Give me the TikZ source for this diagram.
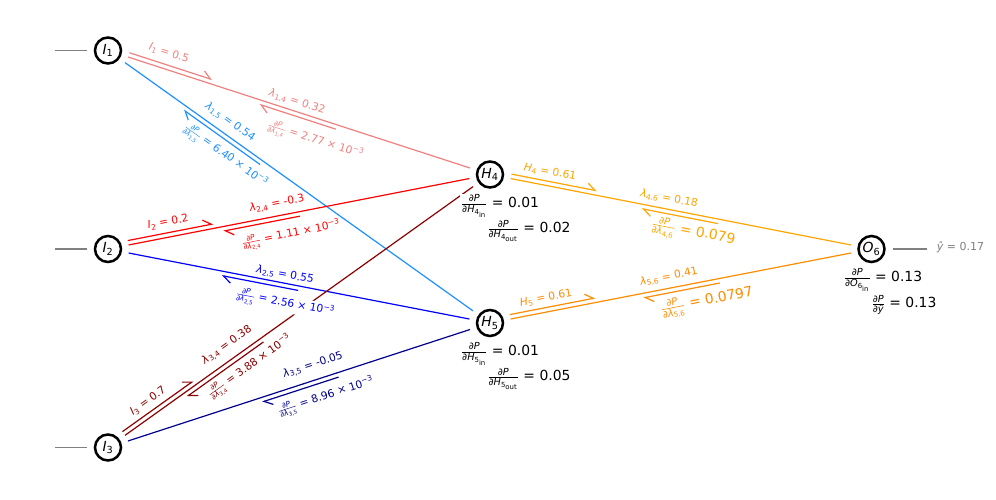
\documentclass[tikz,border=0pt]{standalone}
\usepackage{fontspec}
\usepackage{amsmath}
\setmainfont{DejaVu Sans}
\usetikzlibrary{arrows.meta,calc}
\definecolor{lcoral}{HTML}{F08080}
\definecolor{dgblue}{HTML}{1E90FF}
\definecolor{dkred}{HTML}{8B0000}
\definecolor{dkblue}{HTML}{00008B}
\definecolor{orng}{HTML}{FFA500}
\definecolor{dorng}{HTML}{FF8C00}
\definecolor{gry}{HTML}{808080}
\newcommand{\tx}[1]{\text{#1}}
\newcommand{\ti}[1]{\text{\itshape #1}}
\newcommand{\pdv}[2]{\ensuremath{\frac{\ti{∂#1}}{#2}}}
\newcommand{\lam}[1]{\ensuremath{\ti{λ}_{\tx{#1}}}}
\newcommand{\mthree}{10\ensuremath{^{\tx{−3}}}}
\newcommand{\fwdarr}[3]{\draw[#1,arr] ($(#2)!21pt!(#3)!4.5pt!90:(#3)$) -- ($(#2)!108pt!(#3)!4.5pt!90:(#3)$);}
\newcommand{\bckarr}[5]{\draw[#1,arr] ($(#2)!#4!(#3)!4.5pt!-90:(#3)$) -- ($(#2)!#5!(#3)!4.5pt!-90:(#3)$);}
\newcommand{\mainln}[3]{\draw[#1,edge] ($(#2)!21pt!(#3)$) -- ($(#3)!21pt!(#2)$);}
\begin{document}
\begin{tikzpicture}[x=1pt,y=-1pt,
  neuron/.style={circle,draw=black,line width=2.5pt,minimum size=26pt,inner sep=0pt,fill=white,font=\fontsize{13.9}{16}\selectfont},
  edge/.style={line width=1.2pt},
  arr/.style={line width=1.2pt,-{Straight Barb[left,length=8pt,width=11.5pt]}},
  lab/.style={fill=white,inner sep=0.6pt,font=\fontsize{10.7}{12}\selectfont},
  biglab/.style={fill=white,inner sep=0.6pt,font=\fontsize{13.9}{16}\selectfont},
  stub/.style={gry,line width=1.2pt}]
\useasboundingbox (0,0) rectangle (996,499);
% node positions
\coordinate (cI1) at (108,50.5);
\coordinate (cI2) at (108,249);
\coordinate (cI3) at (108,447.5);
\coordinate (cH4) at (490,174.5);
\coordinate (cH5) at (490,323);
\coordinate (cO6) at (871.5,249);
\coordinate (s1) at (55,50.5);
\coordinate (s2) at (55,249);
\coordinate (s3) at (55,447.5);
\coordinate (s6) at (926.5,249);
% stubs
\draw[stub] (s1) -- ($(cI1)!21pt!(s1)$);
\draw[stub] (s2) -- ($(cI2)!21pt!(s2)$);
\draw[stub] (s3) -- ($(cI3)!21pt!(s3)$);
\draw[stub] ($(cO6)!21pt!(s6)$) -- (s6);
% main lines
\mainln{lcoral}{cI1}{cH4}
\mainln{dgblue}{cI1}{cH5}
\mainln{red}{cI2}{cH4}
\mainln{blue}{cI2}{cH5}
\mainln{dkred}{cI3}{cH4}
\mainln{dkblue}{cI3}{cH5}
\mainln{orng}{cH4}{cO6}
\mainln{dorng}{cH5}{cO6}
% forward arrows
\fwdarr{lcoral}{cI1}{cH4}
\fwdarr{red}{cI2}{cH4}
\fwdarr{dkred}{cI3}{cH4}
\fwdarr{orng}{cH4}{cO6}
\fwdarr{dorng}{cH5}{cO6}
% backward arrows
\bckarr{lcoral}{cI1}{cH4}{0.6}{0.4}
\bckarr{dgblue}{cI1}{cH5}{0.405}{0.205}
\bckarr{red}{cI2}{cH4}{0.5}{0.3}
\bckarr{blue}{cI2}{cH5}{0.5}{0.3}
\bckarr{dkred}{cI3}{cH4}{0.4}{0.2}
\bckarr{dkblue}{cI3}{cH5}{0.6}{0.4}
\bckarr{orng}{cH4}{cO6}{0.6}{0.4}
\bckarr{dorng}{cH5}{cO6}{0.6}{0.4}
% edge labels
\node[lab,text=lcoral,rotate=-18] (l1) at (169,53) {\textit{I}$_{\tx{1}}$ = 0.5};
\node[lab,text=lcoral,rotate=-18] (l2) at (297,102) {\lam{1,4} = 0.32};
\node[lab,text=lcoral,rotate=-18] (l3) at (315,141) {\pdv{P}{\ti{∂λ}_{\tx{1,4}}} = 2.77 × \mthree};
\node[lab,text=dgblue,rotate=-35.5] (l4) at (230,122) {\lam{1,5} = 0.54};
\node[lab,text=dgblue,rotate=-35.5] (l5) at (225,156) {\pdv{P}{\ti{∂λ}_{\tx{1,5}}} = 6.40 × \mthree};
\node[lab,text=red,rotate=11] (l6) at (168,222) {\textit{I}$_{\tx{2}}$ = 0.2};
\node[lab,text=red,rotate=11] (l7) at (277,204) {\lam{2,4} = -0.3};
\node[lab,text=red,rotate=11] (l8) at (291,235) {\pdv{P}{\ti{∂λ}_{\tx{2,4}}} = 1.11 × \mthree};
\node[lab,text=blue,rotate=-11] (l9) at (285,275) {\lam{2,5} = 0.55};
\node[lab,text=blue,rotate=-11] (l10) at (285,304) {\pdv{P}{\ti{∂λ}_{\tx{2,5}}} = 2.56 × \mthree};
\node[lab,text=dkred,rotate=35.6] (l11) at (148,401) {\textit{I}$_{\tx{3}}$ = 0.7};
\node[lab,text=dkred,rotate=35.6] (l12) at (227,345) {\lam{3,4} = 0.38};
\node[lab,text=dkred,rotate=35.6] (l13) at (250,367) {\pdv{P}{\ti{∂λ}_{\tx{3,4}}} = 3.88 × \mthree};
\node[lab,text=dkblue,rotate=18] (l14) at (313,365) {\lam{3,5} = -0.05};
\node[lab,text=dkblue,rotate=18] (l15) at (326,397) {\pdv{P}{\ti{∂λ}_{\tx{3,5}}} = 8.96 × \mthree};
\node[lab,text=orng,rotate=-11] (l16) at (550,172) {\textit{H}$_{\tx{4}}$ = 0.61};
\node[lab,text=orng,rotate=-11] (l17) at (669,199) {\lam{4,6} = 0.18};
\node[biglab,text=orng,rotate=-11] (l18) at (693,233) {\pdv{P}{\ti{∂λ}_{\tx{4,6}}} = 0.079};
\node[lab,text=dorng,rotate=11] (l19) at (546,298) {\textit{H}$_{\tx{5}}$ = 0.61};
\node[lab,text=dorng,rotate=11] (l20) at (669,277) {\lam{5,6} = 0.41};
\node[biglab,text=dorng,rotate=11] (l21) at (707,302) {\pdv{P}{\ti{∂λ}_{\tx{5,6}}} = 0.0797};
% node annotations
\node[biglab] (a1) at (500,206) {\pdv{P}{\ti{∂H}_{\tx{4}_{\tx{in}}}} = 0.01};
\node[biglab] (a2) at (529,231) {\pdv{P}{\ti{∂H}_{\tx{4}_{\tx{out}}}} = 0.02};
\node[biglab] (a3) at (500,354) {\pdv{P}{\ti{∂H}_{\tx{5}_{\tx{in}}}} = 0.01};
\node[biglab] (a4) at (529,379) {\pdv{P}{\ti{∂H}_{\tx{5}_{\tx{out}}}} = 0.05};
\node[biglab] (a5) at (883,280) {\pdv{P}{\ti{∂O}_{\tx{6}_{\tx{in}}}} = 0.13};
\node[biglab] (a6) at (904,305) {\pdv{P}{\ti{∂ŷ}} = 0.13};
\node[lab,text=gry,anchor=west,font=\fontsize{11}{13}\selectfont] (yh) at (936,247) {\textit{ŷ} = 0.17};
% neurons
\node[neuron] (I1) at (cI1) {\textit{I}$_{\tx{1}}$};
\node[neuron] (I2) at (cI2) {\textit{I}$_{\tx{2}}$};
\node[neuron] (I3) at (cI3) {\textit{I}$_{\tx{3}}$};
\node[neuron] (H4) at (cH4) {\textit{H}$_{\tx{4}}$};
\node[neuron] (H5) at (cH5) {\textit{H}$_{\tx{5}}$};
\node[neuron] (O6) at (cO6) {\textit{O}$_{\tx{6}}$};
\end{tikzpicture}
\end{document}
